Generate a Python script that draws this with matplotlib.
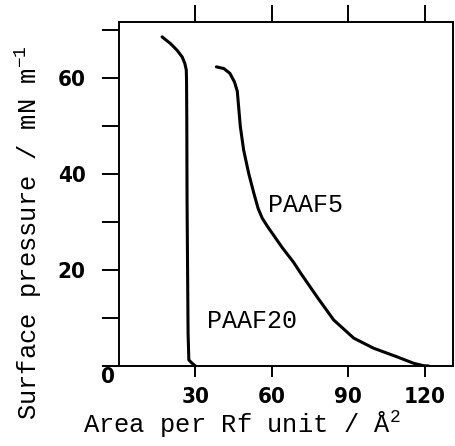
import matplotlib.pyplot as plt
from matplotlib import font_manager as fm

# PAAF20 isotherm (area per Rf unit / A^2, surface pressure / mN m-1)
paaf20_area = [16.9, 20.2, 22.8, 24.8, 25.8, 26.4, 26.5, 26.6, 26.7, 27.1, 27.4, 28.7, 30.0]
paaf20_pi = [68.6, 67.2, 65.8, 64.4, 63.1, 61.7, 59.6, 51.3, 34.6, 6.9, 1.25, 0.56, 0.0]

# PAAF5 isotherm
paaf5_area = [38.2, 41.1, 43.5, 45.3, 46.4, 47.6, 48.9, 50.9, 52.9, 54.6, 56.2, 58.1, 64.0,
              68.5, 71.2, 77.7, 84.2, 92.1, 99.9, 109.1, 115.6, 119.5, 121.5]
paaf5_pi = [62.35, 62.0, 61.0, 59.2, 57.3, 49.9, 45.0, 40.1, 36.0, 32.8, 30.8, 29.2, 24.7,
            21.6, 19.4, 14.4, 9.6, 5.8, 3.7, 1.9, 0.56, 0.06, 0.0]

x_ticks = [30, 60, 90, 120]
y_ticks = [0, 10, 20, 30, 40, 50, 60, 70]
y_labels = ['', '', '20', '', '40', '', '60', '']

mono = 'Liberation Mono'
plt.rcParams['mathtext.fontset'] = 'custom'
plt.rcParams['mathtext.rm'] = mono
plt.rcParams['mathtext.it'] = mono

# condensed bold face for the tick numbers if one is installed
tick_fp = None
for f in fm.fontManager.ttflist:
    if 'condensed' in str(f.stretch).lower() or 'Narrow' in f.name:
        w = f.weight if isinstance(f.weight, int) else (700 if 'bold' in str(f.weight) else 400)
        if w >= 600:
            tick_fp = fm.FontProperties(fname=f.fname, size=16)
            break
if tick_fp is None:
    tick_fp = fm.FontProperties(family=['Roboto', 'DejaVu Sans'], weight='bold', size=15)

fig = plt.figure(figsize=(4.55, 4.46), dpi=100)
ax = fig.add_axes([0.2615, 0.1794, 0.734, 0.7713])

ax.plot(paaf20_area, paaf20_pi, color='black', lw=2.2, solid_capstyle='round')
ax.plot(paaf5_area, paaf5_pi, color='black', lw=2.2, solid_capstyle='round')

ax.set_xlim(0, 131)
ax.set_ylim(0, 71.7)

for s in ax.spines.values():
    s.set_linewidth(1.4)

ax.set_xticks(x_ticks)
ax.set_xticklabels([str(v) for v in x_ticks], fontproperties=tick_fp)
ax.set_yticks(y_ticks)
ax.set_yticklabels(y_labels, fontproperties=tick_fp)
ax.tick_params(axis='x', direction='out', length=8, width=1.4, pad=7, top=True)
ax.tick_params(axis='y', direction='out', length=12, width=1.4, pad=12)
for t in ax.xaxis.get_major_ticks():
    t.tick2line.set_markersize(12)

ax.annotate('0', xy=(0, 0), xycoords='axes fraction', xytext=(-11, -11),
            textcoords='offset pixels', ha='center', va='center',
            fontproperties=tick_fp)

ax.text(58.6, 33.5, 'PAAF5', family=mono, fontsize=18, va='center', ha='left')
ax.text(34.7, 9.4, 'PAAF20', family=mono, fontsize=18, va='center', ha='left')

ax.set_xlabel('Area per Rf unit / Å$^2$', family=mono, fontsize=18.4)
ax.xaxis.label.set_va('baseline')
ax.xaxis.set_label_coords(0.367, -0.195)
ax.set_ylabel('Surface pressure / mN m$^{-1}$', family=mono, fontsize=18.4)
ax.yaxis.label.set_va('center')
ax.yaxis.set_label_coords(-0.272, 0.388)

fig.savefig('out.png', dpi=100)
